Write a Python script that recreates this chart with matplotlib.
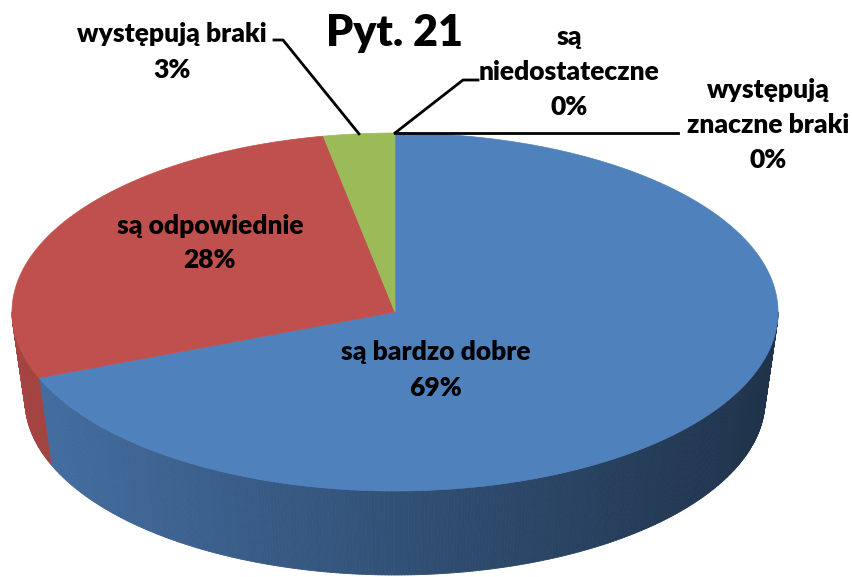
import matplotlib.pyplot as plt
from matplotlib.collections import PolyCollection
from matplotlib.patches import Polygon
import numpy as np

# data
categories = ["są bardzo dobre", "są odpowiednie", "występują braki",
              "są niedostateczne", "występują znaczne braki"]
values = [69, 28, 3, 0, 0]
label_texts = ["są bardzo dobre\n69%", "są odpowiednie\n28%", "występują braki\n3%",
               "są\nniedostateczne\n0%", "występują\nznaczne braki\n0%"]
colors = ["#4F81BD", "#C0504D", "#9BBB59", "#8064A2", "#4BACC6"]
title = "Pyt. 21"

plt.rcParams['font.family'] = ['Lato', 'DejaVu Sans']

fig = plt.figure(figsize=(8.53, 5.77), dpi=100)
ax = fig.add_axes([0, 0, 1, 1])
ax.set_xlim(0, 853)
ax.set_ylim(577, 0)
ax.axis('off')

# pie geometry (pixels)
cx, cy = 395, 312
a, b = 383, 179          # top ellipse
a2, b2, depth = 370, 175, 88   # bottom ellipse (slight perspective)


def top_pt(t):
    # t in degrees, clockwise from 12 o'clock
    r = np.radians(t)
    return cx + a * np.sin(r), cy - b * np.cos(r)


def bot_pt(t):
    r = np.radians(t)
    return cx + a2 * np.sin(r), cy + depth - b2 * np.cos(r)


frac = np.array(values, dtype=float) / sum(values)
edges = np.concatenate([[0], np.cumsum(frac) * 360])


def shade(hexcol, x):
    rgb = np.array([int(hexcol[i:i + 2], 16) for i in (1, 3, 5)]) / 255
    f = 0.86 - 0.47 * (x - (cx - a)) / (2 * a)
    return tuple(np.clip(rgb * f, 0, 1))


# side walls (front half only)
quads, qcols = [], []
for i, c in enumerate(colors):
    t0, t1 = max(edges[i], 90), min(edges[i + 1], 270)
    if t1 <= t0:
        continue
    ts = np.linspace(t0, t1, max(2, int((t1 - t0) * 2)))
    for ta, tb in zip(ts[:-1], ts[1:]):
        p1, p2 = top_pt(ta), top_pt(tb)
        p3, p4 = bot_pt(tb), bot_pt(ta)
        quads.append([p1, p2, p3, p4])
        qcols.append(shade(c, (p1[0] + p2[0]) / 2))
ax.add_collection(PolyCollection(quads, facecolors=qcols, edgecolors=qcols, linewidths=0.6))

# top surface
for i, c in enumerate(colors):
    if values[i] == 0:
        continue
    ts = np.linspace(edges[i], edges[i + 1], 200)
    pts = [(cx, cy)] + [top_pt(t) for t in ts]
    ax.add_patch(Polygon(pts, closed=True, facecolor=c, edgecolor=c, linewidth=0.5))

fs = 19
kw = dict(fontsize=fs, fontweight='heavy', ha='center', va='center', linespacing=1.55)

# inside labels
ax.text(436, 370, label_texts[0], **kw)
ax.text(210, 243, label_texts[1], **kw)

# outside labels with leader lines
mid_green = top_pt((edges[2] + edges[3]) / 2)
ax.plot([mid_green[0], 283, 274], [mid_green[1], 40, 40], color='k', lw=2)
ax.text(172, 52, label_texts[2], **kw)

zero_pt = top_pt(edges[3])
ax.plot([zero_pt[0], 463, 478], [zero_pt[1], 80, 80], color='k', lw=2)
ax.text(569, 72, label_texts[3], **kw)

ax.plot([zero_pt[0], 678], [zero_pt[1], zero_pt[1]], color='k', lw=2)
ax.text(768, 125, label_texts[4], **kw)

ax.text(395, 33, title, fontsize=31, fontweight='heavy', ha='center', va='center')

fig.savefig("out.png", dpi=100)
